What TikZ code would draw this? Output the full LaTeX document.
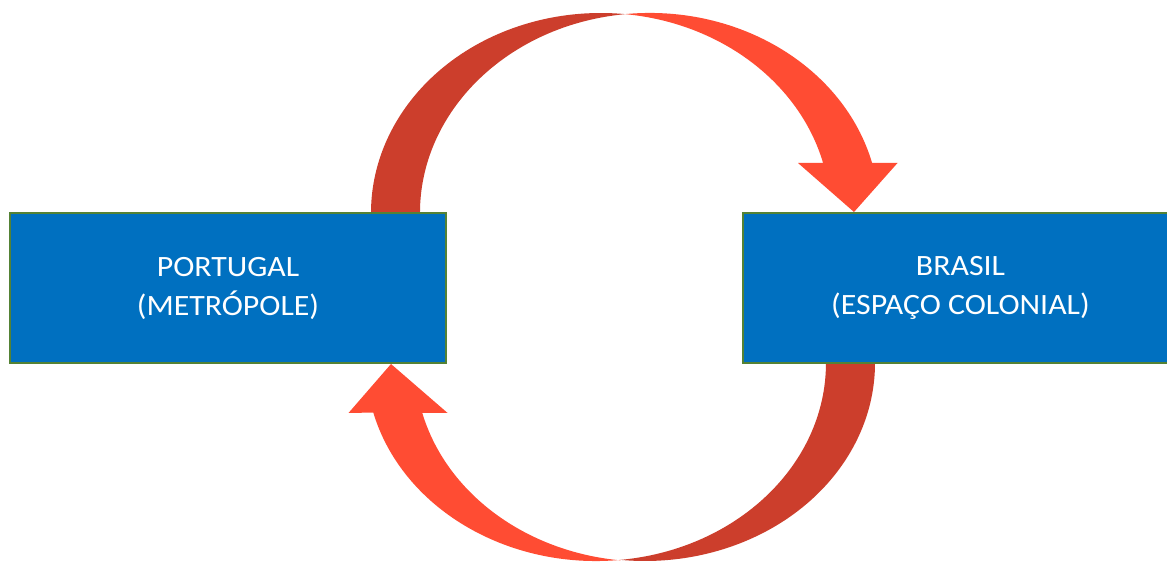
\documentclass[tikz,border=0pt]{standalone}
\usepackage{fontspec}
\setmainfont{Carlito}
\newfontfamily\boxfont[FakeStretch=1.08]{Carlito}
\definecolor{boxblue}{RGB}{0,112,192}
\definecolor{boxgreen}{RGB}{84,130,53}
\definecolor{arrdark}{RGB}{204,62,44}
\definecolor{arrlight}{RGB}{255,76,51}
\begin{document}
\begin{tikzpicture}[x=1pt,y=1pt,
  regionbox/.style={draw=boxgreen, line width=2pt, fill=boxblue, text=white,
    align=center, inner sep=0pt, font=\boxfont\fontsize{29.5}{39}\selectfont},
  backface/.style={fill=arrdark, draw=none},
  frontface/.style={fill=arrlight, draw=none}]
\clip (0,0) rectangle (1167,562);
\fill[white] (0,0) rectangle (1167,562);
% top curved arrow (Portugal -> Brasil)
\fill[backface] (371,349)
  arc[start angle=180, end angle=83.88, x radius=229.7, y radius=200]
  arc[start angle=96.12, end angle=180, x radius=229.7, y radius=200]
  -- cycle;
\fill[frontface] (625.2,547.9)
  arc[start angle=96.12, end angle=14.48, x radius=229.7, y radius=200]
  -- (897.5,399) -- (854,350) -- (798,399) -- (823.1,399)
  arc[start angle=14.48, end angle=83.88, x radius=229.7, y radius=200]
  -- cycle;
% bottom curved arrow (Brasil -> Portugal)
\fill[backface] (875,199)
  arc[start angle=0, end angle=-96.12, x radius=230, y radius=198]
  arc[start angle=-83.88, end angle=0, x radius=230, y radius=198]
  -- cycle;
\fill[frontface] (620.5,2.1)
  arc[start angle=-83.88, end angle=-165.52, x radius=230, y radius=198]
  -- (348.5,149) -- (391,198) -- (447.6,149) -- (422.3,149)
  arc[start angle=-165.52, end angle=-96.12, x radius=230, y radius=198]
  -- cycle;
% boxes
\node[regionbox, minimum width=436pt, minimum height=150pt] (portugal) at (228,274)
  {PORTUGAL\\(METRÓPOLE)};
\node[regionbox, minimum width=435pt, minimum height=150pt] (brasil) at (960.5,274)
  {BRASIL\\(ESPAÇO COLONIAL)};
\end{tikzpicture}
\end{document}
